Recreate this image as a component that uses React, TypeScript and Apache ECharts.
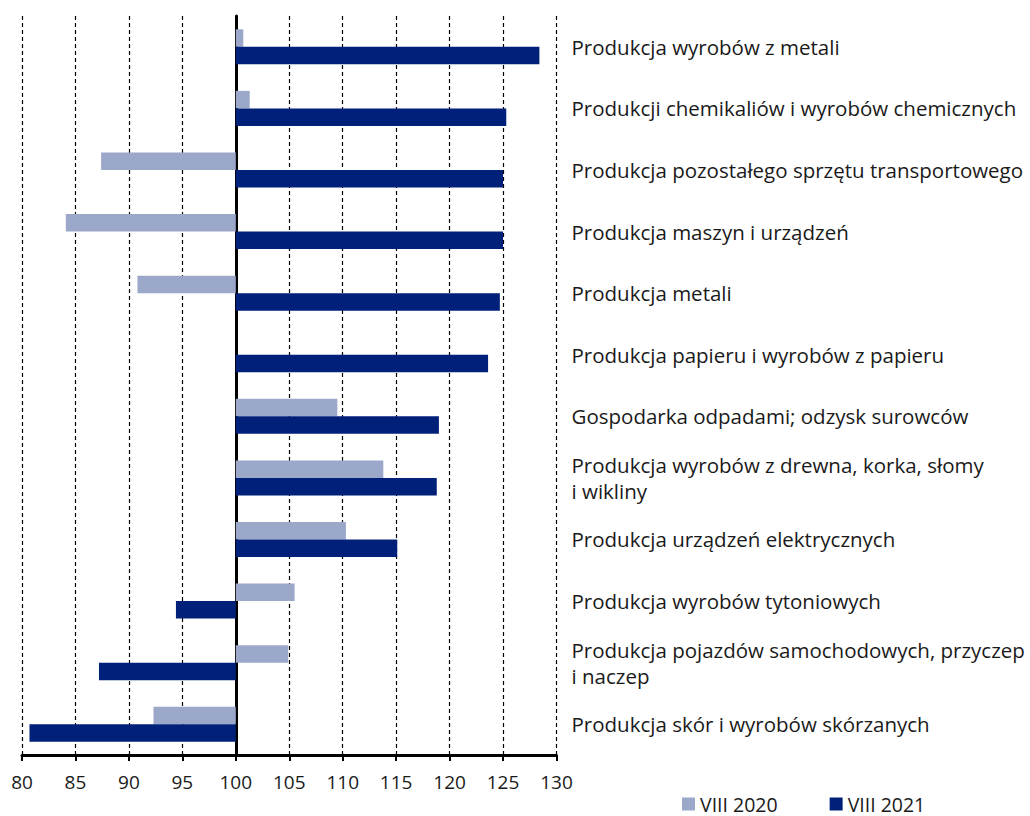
import React, { useEffect, useRef } from "react";
import * as echarts from "echarts";

const categories = [
  "Produkcja wyrobów z metali",
  "Produkcji chemikaliów i wyrobów chemicznych",
  "Produkcja pozostałego sprzętu transportowego",
  "Produkcja maszyn i urządzeń",
  "Produkcja metali",
  "Produkcja papieru i wyrobów z papieru",
  "Gospodarka odpadami; odzysk surowców",
  "Produkcja wyrobów z drewna, korka, słomy\ni wikliny",
  "Produkcja urządzeń elektrycznych",
  "Produkcja wyrobów tytoniowych",
  "Produkcja pojazdów samochodowych, przyczep\ni naczep",
  "Produkcja skór i wyrobów skórzanych",
];

const values2020 = [100.7, 101.3, 87.4, 84.1, 90.8, 100.0, 109.5, 113.8, 110.3, 105.5, 104.9, 92.3];
const values2021 = [128.4, 125.3, 125.0, 125.0, 124.7, 123.6, 119.0, 118.8, 115.1, 94.4, 87.2, 80.7];

const seriesNames = ["VIII 2020", "VIII 2021"];
const axisMin = 80;
const axisMax = 130;
const axisStep = 5;
const baseline = 100;

const FONT = "'Open Sans', 'Noto Sans', sans-serif";

export default function App() {
  const ref = useRef<HTMLDivElement>(null);
  useEffect(() => {
    if (!ref.current) return;
    const chart = echarts.init(ref.current, undefined, { renderer: "svg" });
    chart.setOption({
      animation: false,
      backgroundColor: "#ffffff",
      textStyle: { fontFamily: FONT },
      grid: { left: 22, right: 473.5, top: 16, bottom: 61, containLabel: false },
      legend: {
        left: 677,
        top: 789,
        icon: "rect",
        itemWidth: 13,
        itemHeight: 13,
        itemGap: 52,
        data: seriesNames,
        textStyle: { fontSize: 19.5, color: "#1a1a1a", fontFamily: FONT },
      },
      xAxis: {
        type: "value",
        min: axisMin - baseline,
        max: axisMax - baseline,
        interval: axisStep,
        axisLine: { show: true, lineStyle: { color: "#000", width: 3 } },
        axisTick: { show: true, length: 6, lineStyle: { color: "#000", width: 2 } },
        axisLabel: {
          formatter: (v: number) => String(Math.round(v + baseline)),
          fontSize: 19,
          color: "#1a1a1a",
          margin: 17,
          fontFamily: FONT,
        },
        splitLine: { show: true, lineStyle: { color: "#000", width: 1.2, type: [4, 3] } },
      },
      yAxis: [
        {
          type: "category",
          data: categories,
          inverse: true,
          position: "left",
          axisLine: { show: true, onZero: true, lineStyle: { color: "#000", width: 3 } },
          axisTick: { show: false },
          axisLabel: { show: false },
          splitLine: { show: false },
        },
        {
          type: "category",
          data: categories,
          inverse: true,
          position: "right",
          axisLine: { show: false, onZero: false },
          axisTick: { show: false },
          splitLine: { show: false },
          axisLabel: {
            show: true,
            align: "left",
            margin: 15,
            fontSize: 20.5,
            lineHeight: 26,
            color: "#1a1a1a",
            fontFamily: FONT,
          },
        },
      ],
      series: [
        {
          name: seriesNames[0],
          type: "bar",
          yAxisIndex: 0,
          barWidth: 17.5,
          barGap: "0%",
          itemStyle: { color: "#9CA8CA" },
          data: values2020.map((v) => +(v - baseline).toFixed(2)),
        },
        {
          name: seriesNames[1],
          type: "bar",
          yAxisIndex: 0,
          barWidth: 17.5,
          barGap: "0%",
          itemStyle: { color: "#00207A" },
          data: values2021.map((v) => +(v - baseline).toFixed(2)),
        },
      ],
    });
    return () => chart.dispose();
  }, []);
  return (
    <div
      ref={ref}
      style={{ position: "fixed", left: 0, top: 0, width: 1030, height: 816, background: "#fff" }}
    />
  );
}
